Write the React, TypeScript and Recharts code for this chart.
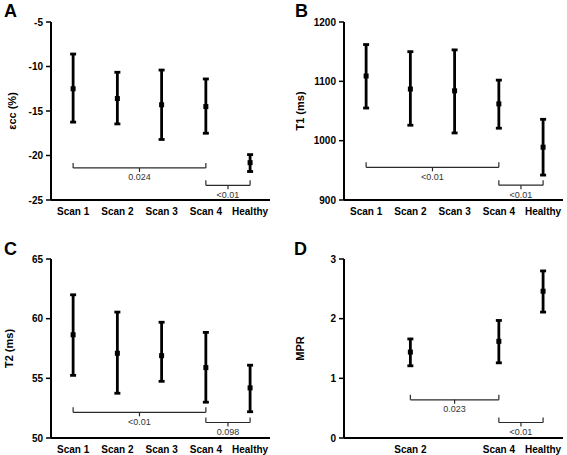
import React from 'react';
import { ScatterChart, Scatter, XAxis, YAxis, ErrorBar, ReferenceLine, ReferenceDot } from 'recharts';

// ---------- data ----------
const scanLabels = ['Scan 1', 'Scan 2', 'Scan 3', 'Scan 4', 'Healthy'];
const allPositions = [1, 2, 3, 4, 5];
const mprPositions = [2, 4, 5];

const eccMean = [-12.5, -13.6, -14.3, -14.5, -20.8];
const eccUpper = [-8.6, -10.65, -10.4, -11.4, -19.9];
const eccLower = [-16.25, -16.45, -18.2, -17.5, -21.8];
const eccTicks = [-25, -20, -15, -10, -5];

const t1Mean = [1109, 1087, 1084, 1062, 989];
const t1Upper = [1162, 1150, 1153, 1102, 1036];
const t1Lower = [1055, 1026, 1013, 1021, 942];
const t1Ticks = [900, 1000, 1100, 1200];

const t2Mean = [58.65, 57.1, 56.9, 55.9, 54.2];
const t2Upper = [62.0, 60.55, 59.7, 58.85, 56.1];
const t2Lower = [55.25, 53.75, 54.75, 53.0, 52.2];
const t2Ticks = [50, 55, 60, 65];

const mprMean = [1.44, 1.62, 2.46];
const mprUpper = [1.66, 1.97, 2.8];
const mprLower = [1.21, 1.26, 2.11];
const mprTicks = [0, 1, 2, 3];

const eccBrackets = [
  { from: 1, to: 4, y: -21.4, label: '0.024' },
  { from: 4, to: 5, y: -23.35, label: '<0.01' },
];
const t1Brackets = [
  { from: 1, to: 4, y: 955, label: '<0.01' },
  { from: 4, to: 5, y: 925, label: '<0.01' },
];
const t2Brackets = [
  { from: 1, to: 4, y: 52.15, label: '<0.01' },
  { from: 4, to: 5, y: 51.3, label: '0.098' },
];
const mprBrackets = [
  { from: 2, to: 4, y: 0.64, label: '0.023' },
  { from: 4, to: 5, y: 0.26, label: '<0.01' },
];

type Bracket = { from: number; to: number; y: number; label: string };

const build = (pos: number[], mean: number[], upper: number[], lower: number[]) =>
  pos.map((x, i) => ({ x, y: mean[i], err: [mean[i] - lower[i], upper[i] - mean[i]] }));

const FONT = "'Liberation Sans', Arial, Helvetica, sans-serif";
const BRACKET = '#2a2a2a';

type PanelProps = {
  left: number;
  top: number;
  width: number;
  height: number;
  marginTop: number;
  marginRight: number;
  yWidth: number;
  xHeight: number;
  data: { x: number; y: number; err: number[] }[];
  yTicks: number[];
  xTicks: number[];
  yLabel: string;
  yLabelX: number;
  brackets: Bracket[];
  plotHeight: number;
};

const Panel = (p: PanelProps) => {
  const span = p.yTicks[p.yTicks.length - 1] - p.yTicks[0];
  const perPx = span / p.plotHeight;
  const tickUp = 5 * perPx;
  const tickDown = 4 * perPx;
  const yLabelContent = (props: any) => {
    const vb = props.viewBox || { y: p.marginTop, height: p.plotHeight };
    const cx = p.yLabelX;
    const cy = vb.y + vb.height / 2;
    return (
      <text
        x={cx}
        y={cy}
        transform={`rotate(-90 ${cx} ${cy})`}
        textAnchor="middle"
        dominantBaseline="central"
        fontFamily={FONT}
        fontWeight={700}
        fontSize={11}
        fill="#000"
      >
        {p.yLabel}
      </text>
    );
  };
  return (
    <div style={{ position: 'absolute', left: p.left, top: p.top }}>
      <ScatterChart
        width={p.width}
        height={p.height}
        margin={{ top: p.marginTop, right: p.marginRight, bottom: 0, left: 0 }}
      >
        <XAxis
          type="number"
          dataKey="x"
          domain={[0.5, 5.45]}
          ticks={p.xTicks}
          interval={0}
          allowDataOverflow
          tickFormatter={(v: number) => scanLabels[v - 1]}
          tickLine={false}
          tickSize={6}
          axisLine={{ stroke: '#000', strokeWidth: 2 }}
          tick={{ fontSize: 10, fontWeight: 700, fill: '#000', fontFamily: FONT }}
          height={p.xHeight}
        />
        <YAxis
          type="number"
          dataKey="y"
          domain={[p.yTicks[0], p.yTicks[p.yTicks.length - 1]]}
          ticks={p.yTicks}
          interval={0}
          allowDataOverflow
          width={p.yWidth}
          tickSize={5}
          tickMargin={3}
          tickLine={{ stroke: '#000', strokeWidth: 1.5 }}
          axisLine={{ stroke: '#000', strokeWidth: 2 }}
          tick={{ fontSize: 10, fontWeight: 700, fill: '#000', fontFamily: FONT }}
          label={{ content: yLabelContent }}
        />
        {p.brackets.map((b, i) => (
          <ReferenceLine
            key={`h${i}`}
            segment={[{ x: b.from, y: b.y }, { x: b.to, y: b.y }]}
            stroke={BRACKET}
            strokeWidth={1.2}
            ifOverflow="visible"
          />
        ))}
        {p.brackets.map((b, i) => (
          <ReferenceLine
            key={`l${i}`}
            segment={[{ x: b.from, y: b.y }, { x: b.from, y: b.y + tickUp }]}
            stroke={BRACKET}
            strokeWidth={1.2}
            ifOverflow="visible"
          />
        ))}
        {p.brackets.map((b, i) => (
          <ReferenceLine
            key={`r${i}`}
            segment={[{ x: b.to, y: b.y }, { x: b.to, y: b.y + tickUp }]}
            stroke={BRACKET}
            strokeWidth={1.2}
            ifOverflow="visible"
          />
        ))}
        {p.brackets.map((b, i) => (
          <ReferenceLine
            key={`c${i}`}
            segment={[{ x: (b.from + b.to) / 2, y: b.y }, { x: (b.from + b.to) / 2, y: b.y - tickDown }]}
            stroke={BRACKET}
            strokeWidth={1.2}
            ifOverflow="visible"
          />
        ))}
        {p.brackets.map((b, i) => (
          <ReferenceDot
            key={`t${i}`}
            x={(b.from + b.to) / 2}
            y={b.y}
            r={0}
            ifOverflow="visible"
            shape={(sp: any) => (
              <text
                x={sp.cx}
                y={sp.cy + 12.5}
                textAnchor="middle"
                fontFamily={FONT}
                fontSize={9}
                fill="#333"
              >
                {b.label}
              </text>
            )}
          />
        ))}
        <Scatter
          data={p.data}
          isAnimationActive={false}
          shape={(sp: any) => (
            <rect x={sp.cx - 2.5} y={sp.cy - 2.5} width={5} height={5} fill="#000" />
          )}
        >
          <ErrorBar
            dataKey="err"
            direction="y"
            width={3}
            strokeWidth={2.8}
            stroke="#000"
            isAnimationActive={false}
          />
        </Scatter>
      </ScatterChart>
    </div>
  );
}

export default function App() {
  return (
    <div
      style={{
        position: 'absolute',
        left: 0,
        top: 0,
        width: 567,
        height: 455,
        background: '#fff',
        overflow: 'hidden',
      }}
    >
      <Panel
        left={0}
        top={0}
        width={283}
        height={228}
        marginTop={22}
        marginRight={13}
        yWidth={51}
        xHeight={28}
        plotHeight={178}
        data={build(allPositions, eccMean, eccUpper, eccLower)}
        yTicks={eccTicks}
        xTicks={allPositions}
        yLabel="εcc (%)"
        yLabelX={12}
        brackets={eccBrackets}
      />
      <Panel
        left={283}
        top={0}
        width={283}
        height={228}
        marginTop={22}
        marginRight={3}
        yWidth={61}
        xHeight={28}
        plotHeight={178}
        data={build(allPositions, t1Mean, t1Upper, t1Lower)}
        yTicks={t1Ticks}
        xTicks={allPositions}
        yLabel="T1 (ms)"
        yLabelX={17}
        brackets={t1Brackets}
      />
      <Panel
        left={0}
        top={228}
        width={283}
        height={227}
        marginTop={31}
        marginRight={13}
        yWidth={51}
        xHeight={17}
        plotHeight={179}
        data={build(allPositions, t2Mean, t2Upper, t2Lower)}
        yTicks={t2Ticks}
        xTicks={allPositions}
        yLabel="T2 (ms)"
        yLabelX={9}
        brackets={t2Brackets}
      />
      <Panel
        left={283}
        top={228}
        width={283}
        height={227}
        marginTop={31}
        marginRight={3}
        yWidth={61}
        xHeight={17}
        plotHeight={179}
        data={build(mprPositions, mprMean, mprUpper, mprLower)}
        yTicks={mprTicks}
        xTicks={mprPositions}
        yLabel="MPR"
        yLabelX={17}
        brackets={mprBrackets}
      />
      <svg
        width={567}
        height={455}
        style={{ position: 'absolute', left: 0, top: 0, pointerEvents: 'none' }}
      >
        <g fontFamily={FONT} fontWeight={700} fontSize={18} fill="#000">
          <text x={4} y={17}>A</text>
          <text x={295} y={17}>B</text>
          <text x={4} y={255}>C</text>
          <text x={294} y={255}>D</text>
        </g>
      </svg>
    </div>
  );
}
